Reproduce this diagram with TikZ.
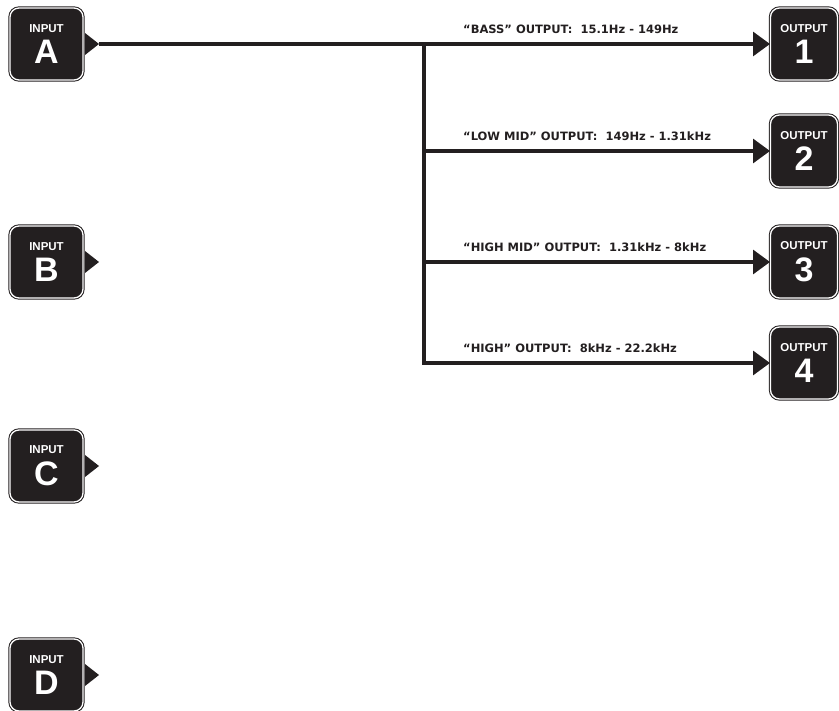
\documentclass[tikz,border=0pt]{standalone}
\usepackage{fontspec}
\setmainfont{Liberation Sans}
\newfontfamily\lblfont{DejaVu Sans}
\usetikzlibrary{arrows.meta}
\definecolor{ink}{HTML}{231F20}
\begin{document}
\begin{tikzpicture}[x=1pt,y=-1pt,
  iobox/.style={rounded corners=9pt, fill=ink, draw=ink, line width=1pt,
    double=white, double distance=1.3pt, text=white, align=center,
    inner sep=0pt, minimum height=72pt},
  inbox/.style={iobox, minimum width=73pt},
  outbox/.style={iobox, minimum width=67pt},
  wire/.style={draw=ink, line width=3.2pt},
  arr/.style={wire, -{Triangle[length=17pt,width=24pt]}},
  lbl/.style={anchor=base west, font=\lblfont\bfseries\fontsize{11.5}{11.5}\selectfont, text=ink, inner sep=0pt},
]
\useasboundingbox (0,0) rectangle (839,711);
\newcommand{\boxtext}[2]{{\bfseries\fontsize{11.5}{11.5}\selectfont #1}\\[7pt]{\bfseries\fontsize{34}{30}\selectfont #2}}
% inputs
\node[inbox] (A) at (46.5,44) {\boxtext{INPUT}{A}};
\node[inbox] (B) at (46.5,262) {\boxtext{INPUT}{B}};
\node[inbox] (C) at (46.5,466) {\boxtext{INPUT}{C}};
\node[inbox] (D) at (46.5,675) {\boxtext{INPUT}{D}};
% outputs
\node[outbox] (O1) at (804,44) {\boxtext{OUTPUT}{1}};
\node[outbox] (O2) at (804,151) {\boxtext{OUTPUT}{2}};
\node[outbox] (O3) at (804,262) {\boxtext{OUTPUT}{3}};
\node[outbox] (O4) at (804,363) {\boxtext{OUTPUT}{4}};
% input pointers
\foreach \n in {A,B,C,D}{
  \fill[ink] (\n.east) ++(1.5,-11) -- ++(14,11) -- ++(-14,11) -- cycle;
}
\coordinate (tA) at ([xshift=15pt]A.east);
\coordinate (J1) at (424,44);
\coordinate (J2) at (424,151);
\coordinate (J3) at (424,262);
\coordinate (J4) at (424,363);
% wires
\draw[arr] (tA) -- (O1.west);
\draw[wire] (J1) -- (J4);
\draw[arr] ([xshift=-1.6pt]J2) -- (O2.west);
\draw[arr] ([xshift=-1.6pt]J3) -- (O3.west);
\draw[arr] ([xshift=-1.6pt]J4) -- (O4.west);
% labels
\node[lbl] (L1) at (463,34) {“BASS” OUTPUT:\ \ 15.1Hz - 149Hz};
\node[lbl] (L2) at (463,141) {“LOW MID” OUTPUT:\ \ 149Hz - 1.31kHz};
\node[lbl] (L3) at (463,252) {“HIGH MID” OUTPUT:\ \ 1.31kHz - 8kHz};
\node[lbl] (L4) at (463,353) {“HIGH” OUTPUT:\ \ 8kHz - 22.2kHz};
\end{tikzpicture}
\end{document}
